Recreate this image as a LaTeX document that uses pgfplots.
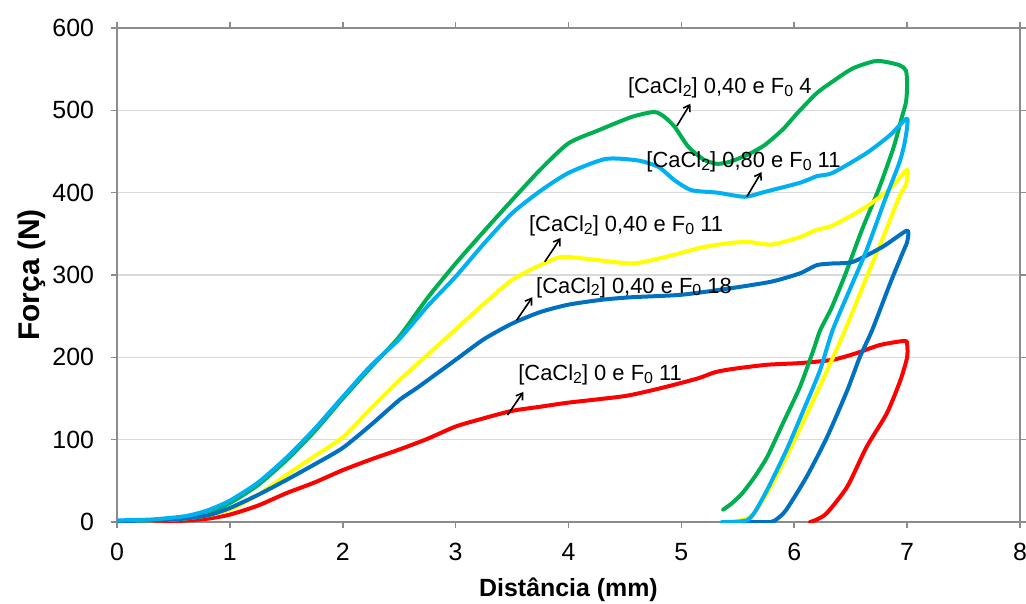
\documentclass[border=0pt]{standalone}
\usepackage{fontspec}
\setmainfont{Liberation Sans}
\usepackage{pgfplots}
\pgfplotsset{compat=1.18}
\usetikzlibrary{arrows.meta}
\definecolor{cgreen}{HTML}{00B050}
\definecolor{ccyan}{HTML}{00B0F0}
\definecolor{cyellow}{HTML}{FFFF00}
\definecolor{cblue}{HTML}{0070C0}
\definecolor{cred}{HTML}{FF0000}
\definecolor{axisgray}{HTML}{8C8C8C}
\definecolor{gridgray}{HTML}{D9D9D9}
\newcommand{\sub}[1]{\raisebox{-0.25ex}{\fontsize{8}{8}\selectfont #1}}
\newcommand{\lbl}[2]{[CaCl\sub{2}] #1 e F\sub{0} #2}
\begin{document}
\begin{tikzpicture}
\begin{axis}[
  scale only axis, width=451.5bp, height=247bp,
  xmin=0, xmax=8, ymin=0, ymax=600,
  xtick={0,1,...,8}, ytick={0,100,...,600},
  tick align=outside, major tick length=3bp,
  tick style={color=axisgray, line width=0.8bp},
  axis line style={axisgray, line width=1bp},
  ymajorgrids, grid style={gridgray, line width=0.75bp},
  tick label style={font=\fontsize{12.5}{14}\selectfont},
  /pgf/number format/assume math mode=true,
  xticklabel style={yshift=-4bp},
  yticklabel style={xshift=-5bp},
  xlabel={Distância (mm)}, ylabel={Força (N)},
  xlabel style={font=\bfseries\fontsize{12.5}{15}\selectfont, at={(axis description cs:0.5,-0.1377)}, anchor=center},
  ylabel style={font=\bfseries\fontsize{15}{17}\selectfont, at={(axis description cs:-0.094,0.5)}, anchor=center},
  every axis plot/.append style={line width=2bp, line join=round, line cap=round, smooth, tension=0.4},
]
% red: [CaCl2] 0 e F0 11
\addplot[cred] coordinates {
(0,0) (0.5,1) (0.8,4) (1.0,9) (1.25,20) (1.5,35) (1.75,48) (2.0,63) (2.25,76)
(2.5,88) (2.75,101) (3.0,116) (3.25,126) (3.5,135) (3.75,140) (4.0,145) (4.5,153)
(4.8,162) (5.0,169) (5.16,175) (5.3,182) (5.46,186) (5.76,191) (6.05,193) (6.34,197)
(6.55,205) (6.76,215) (6.98,220) (7.0,216) (7.0,200) (6.94,172) (6.82,132) (6.64,91)
(6.47,43) (6.29,11) (6.2,3) (6.14,0)
};
% green: [CaCl2] 0,40 e F0 4
\addplot[cgreen] coordinates {
(0,1) (0.3,2) (0.6,6) (0.8,12) (1.0,23) (1.25,45) (1.5,75) (1.75,110) (2.0,150)
(2.25,188) (2.5,225) (2.75,272) (3.0,314) (3.25,353) (3.5,391) (3.75,428) (4.0,460)
(4.27,476) (4.56,492) (4.76,498) (4.85,492) (4.94,480) (5.06,456) (5.2,440) (5.32,435)
(5.44,438) (5.6,447) (5.74,458) (5.9,477) (6.03,497) (6.2,521) (6.34,535) (6.52,551)
(6.73,560) (6.93,555) (6.99,548) (7.0,530) (6.99,510) (6.95,490) (6.88,455) (6.75,405)
(6.6,355) (6.45,300) (6.33,260) (6.23,233) (6.17,209) (6.05,164) (5.9,120) (5.76,79)
(5.65,55) (5.54,35) (5.45,23) (5.37,15)
};
% yellow: [CaCl2] 0,40 e F0 11
\addplot[cyellow] coordinates {
(0,1) (0.5,3) (0.8,8) (1.0,15) (1.25,33) (1.5,57) (1.75,80) (2.0,103) (2.25,138)
(2.5,172) (2.75,203) (3.0,234) (3.25,265) (3.5,294) (3.75,312) (3.94,322) (4.2,319)
(4.56,314) (4.8,320) (5.0,327) (5.2,334) (5.44,339) (5.6,340) (5.8,337) (6.05,346)
(6.2,355) (6.34,360) (6.64,383) (6.85,405) (7.0,428) (6.99,410) (6.93,395) (6.8,350)
(6.64,297) (6.45,233) (6.32,193) (6.17,148) (5.99,96) (5.81,47) (5.7,22) (5.61,6) (5.45,0)
};
% blue: [CaCl2] 0,40 e F0 18
\addplot[cblue] coordinates {
(0,1) (0.5,3) (0.8,8) (1.0,17) (1.25,33) (1.5,51) (1.75,70) (2.0,90) (2.25,118)
(2.5,148) (2.67,164) (3.0,197) (3.25,222) (3.5,241) (3.75,255) (4.0,264) (4.3,270)
(4.56,273) (5.0,276) (5.44,284) (5.8,292) (6.05,302) (6.2,312) (6.34,314) (6.52,316)
(6.78,334) (7.0,354) (7.0,340) (6.97,330) (6.85,290) (6.69,233) (6.58,200) (6.47,160)
(6.29,103) (6.11,55) (5.93,15) (5.85,4) (5.79,0) (5.58,0)
};
% cyan: [CaCl2] 0,80 e F0 11
\addplot[ccyan] coordinates {
(0,2) (0.3,3) (0.6,7) (0.8,14) (1.0,26) (1.25,48) (1.5,78) (1.75,113) (2.0,152)
(2.25,190) (2.5,222) (2.75,262) (3.0,298) (3.25,338) (3.5,375) (3.75,402) (4.0,424)
(4.33,441) (4.62,439) (4.8,431) (4.94,415) (5.09,403) (5.32,400) (5.56,395) (5.74,401)
(6.05,412) (6.2,420) (6.34,424) (6.64,448) (6.85,470) (7.0,490) (6.98,462) (6.93,436)
(6.8,390) (6.64,330) (6.5,285) (6.34,233) (6.23,185) (6.11,145) (5.93,87) (5.76,39)
(5.65,12) (5.58,2) (5.45,0) (5.36,0)
};
\begin{scope}[font=\fontsize{11}{13}\selectfont]
\node at (axis cs:5.34,527) {\lbl{0,40}{4}};
\node at (axis cs:5.55,437) {\lbl{0,80}{11}};
\node at (axis cs:4.51,360) {\lbl{0,40}{11}};
\node at (axis cs:4.58,285) {\lbl{0,40}{18}};
\node at (axis cs:4.28,179) {\lbl{0}{11}};
\end{scope}
\begin{scope}[-{Straight Barb[length=3bp,width=4bp]}, line width=0.8bp]
\draw (axis cs:4.96,481) -- (axis cs:5.08,508);
\draw (axis cs:5.58,395) -- (axis cs:5.71,425);
\draw (axis cs:3.79,316) -- (axis cs:3.93,345);
\draw (axis cs:3.54,245) -- (axis cs:3.68,273);
\draw (axis cs:3.46,130) -- (axis cs:3.60,158);
\end{scope}
\draw[axisgray, line width=1bp] (rel axis cs:0,1) -- (rel axis cs:1,1) -- (rel axis cs:1,0);
\coordinate (bbsw) at (rel axis cs:-0.1296,-0.164);
\coordinate (bbne) at (rel axis cs:1.00664,1.0567);
\end{axis}
\pgfresetboundingbox
\path[use as bounding box] (bbsw) rectangle (bbne);
\end{tikzpicture}
\end{document}
